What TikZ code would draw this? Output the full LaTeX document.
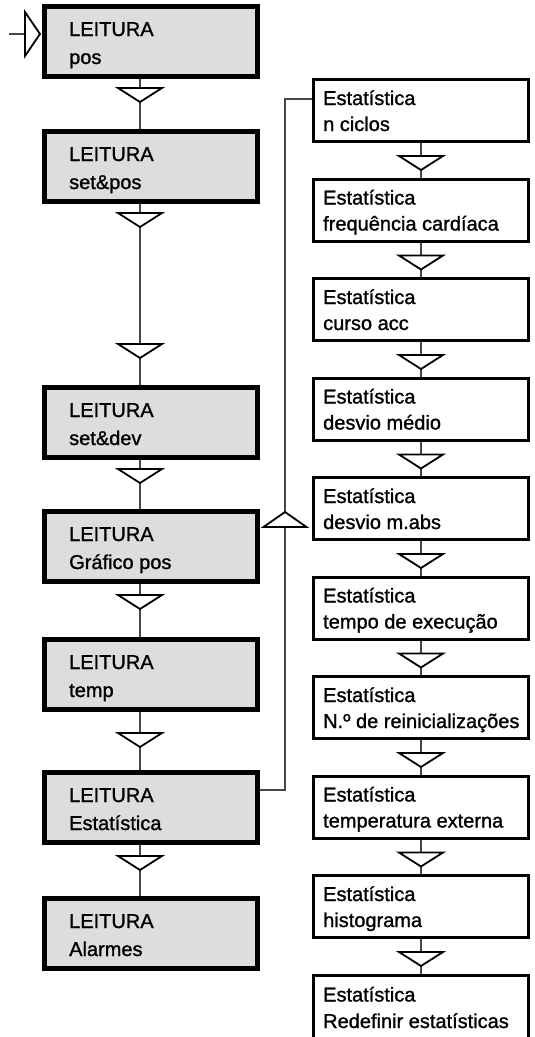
\documentclass[tikz,border=0pt]{standalone}
\usepackage{fontspec}
\setmainfont{Liberation Sans}[FakeBold=1.2]
\usetikzlibrary{calc}
\definecolor{boxgray}{RGB}{220,221,222}
\definecolor{wirecol}{RGB}{70,70,70}
\begin{document}
\begin{tikzpicture}[x=1pt,y=-1pt,
  lbox/.style={draw=black,fill=boxgray,line width=5pt,minimum width=213pt,minimum height=70pt,inner sep=0pt,outer sep=2.5pt},
  rbox/.style={draw=black,fill=white,line width=3pt,minimum width=215pt,minimum height=62pt,inner sep=0pt,outer sep=1.5pt},
  lbl/.style={anchor=base west,inner sep=0pt,font=\fontsize{20}{24}\selectfont},
  wire/.style={draw=wirecol,line width=1.2pt},
  tri/.style={draw=black,fill=white,line width=1.8pt,line join=miter},
  pics/dtri/.style={code={\draw[tri] (-22,0) -- (22,0) -- (0,14) -- cycle;}},
  pics/utri/.style={code={\draw[tri] (-21.5,0) -- (21.5,0) -- (0,-15) -- cycle;}},
]
\useasboundingbox (0,0) rectangle (535,1037);
\clip (0,0) rectangle (535,1037);

% ---- left column: LEITURA menu ----
\node[lbox] (L1) at (151,41.5)  {};
\node[lbox] (L2) at (151,166.5) {};
\node[lbox] (L3) at (151,422.5) {};
\node[lbox] (L4) at (151,546.5) {};
\node[lbox] (L5) at (151,674.5) {};
\node[lbox] (L6) at (151,807.5) {};
\node[lbox] (L7) at (151,933.5) {};

\node[lbl] (L1a) at (69,36)  {LEITURA};  \node[lbl] (L1b) at (69,64)  {pos};
\node[lbl] (L2a) at (69,161) {LEITURA};  \node[lbl] (L2b) at (69,189) {set\&pos};
\node[lbl] (L3a) at (69,417) {LEITURA};  \node[lbl] (L3b) at (69,445) {set\&dev};
\node[lbl] (L4a) at (69,541) {LEITURA};  \node[lbl] (L4b) at (69,569) {Gráfico pos};
\node[lbl] (L5a) at (69,669) {LEITURA};  \node[lbl] (L5b) at (69,697) {temp};
\node[lbl] (L6a) at (69,802) {LEITURA};  \node[lbl] (L6b) at (69,830) {Estatística};
\node[lbl] (L7a) at (69,928) {LEITURA};  \node[lbl] (L7b) at (69,956) {Alarmes};

% ---- right column: Estatística sub-menu ----
\node[rbox] (R1)  at (421,110.5) {};
\node[rbox] (R2)  at (421,210)   {};
\node[rbox] (R3)  at (421,309.5) {};
\node[rbox] (R4)  at (421,409)   {};
\node[rbox] (R5)  at (421,508.5) {};
\node[rbox] (R6)  at (421,608)   {};
\node[rbox] (R7)  at (421,707.5) {};
\node[rbox] (R8)  at (421,807)   {};
\node[rbox] (R9)  at (421,906.5) {};
\node[rbox,minimum height=72pt] (R10) at (421,1011) {};

\node[lbl] (R1a)  at (323,105)    {Estatística}; \node[lbl] (R1b)  at (323,131)    {n ciclos};
\node[lbl] (R2a)  at (323,204.5)  {Estatística}; \node[lbl] (R2b)  at (323,230.5)  {frequência cardíaca};
\node[lbl] (R3a)  at (323,304)    {Estatística}; \node[lbl] (R3b)  at (323,330)    {curso acc};
\node[lbl] (R4a)  at (323,403.5)  {Estatística}; \node[lbl] (R4b)  at (323,429.5)  {desvio médio};
\node[lbl] (R5a)  at (323,503)    {Estatística}; \node[lbl] (R5b)  at (323,529)    {desvio m.abs};
\node[lbl] (R6a)  at (323,602.5)  {Estatística}; \node[lbl] (R6b)  at (323,628.5)  {tempo de execução};
\node[lbl] (R7a)  at (323,702)    {Estatística}; \node[lbl] (R7b)  at (323,728)    {N.º de reinicializações};
\node[lbl] (R8a)  at (323,801.5)  {Estatística}; \node[lbl] (R8b)  at (323,827.5)  {temperatura externa};
\node[lbl] (R9a)  at (323,901)    {Estatística}; \node[lbl] (R9b)  at (323,927)    {histograma};
\node[lbl] (R10a) at (323,1001.5) {Estatística}; \node[lbl] (R10b) at (323,1028) {Redefinir estatísticas};

% ---- connectors ----
\coordinate (sx) at (140,0);
\foreach \a/\b in {L1/L2,L2/L3,L3/L4,L4/L5,L5/L6,L6/L7}
  \draw[wire] (\a.south -| sx) -- (\b.north -| sx);
\foreach \a/\b in {R1/R2,R2/R3,R3/R4,R4/R5,R5/R6,R6/R7,R7/R8,R8/R9,R9/R10}
  \draw[wire] (\a.south) -- (\b.north);

% feedback from LEITURA Estatística into the sub-menu
\coordinate (fbx) at (285,0);
\coordinate (fbA) at (0,790);
\coordinate (fbB) at (0,99);
\draw[wire] (L6.east |- fbA) -| (fbx |- fbB) -- (R1.west |- fbB);

% entry into the first reading
\coordinate (entry) at (9,34);
\draw[wire] (entry) -- (25,34);
\draw[tri] (25,12) -- ($(L1.west |- entry)+(-2,0)$) -- (25,56) -- cycle;

% ---- flow triangles ----
\foreach \y in {88,213,344,469,595,733,856}
  \pic at (140,\y) {dtri};
\foreach \y in {156,255.5,355,454.5,554,653.5,753,852.5,952}
  \pic at (421,\y) {dtri};
\pic at (285,527) {utri};
\end{tikzpicture}
\end{document}
